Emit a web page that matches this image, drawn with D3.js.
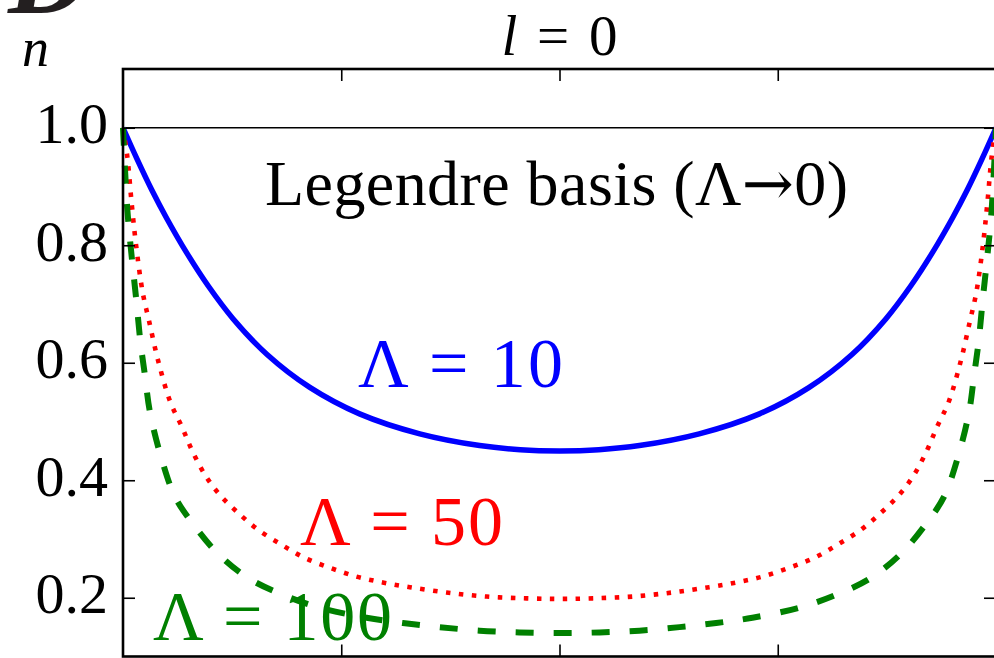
<!DOCTYPE html>
<html>
<head>
<meta charset="utf-8">
<script src="https://cdn.jsdelivr.net/npm/d3@7"></script>
<style>
  html, body { margin: 0; padding: 0; background: #fff; overflow: hidden; }
  svg { display: block; }
</style>
</head>
<body>
<svg id="chart" width="994" height="658"></svg>
<script>
// ---- data ----
const xTicks = [-0.5, 0, 0.5];
const yTicks = [0.2, 0.4, 0.6, 0.8, 1.0];
const yTickLabels = ["0.2", "0.4", "0.6", "0.8", "1.0"];
const seriesNames = ["Λ = 10", "Λ = 50", "Λ = 100"];
const legendreLevel = 1.0;

const x10 = [-1, -0.968, -0.934, -0.9, -0.854, -0.805, -0.748, -0.67, -0.572, -0.458, -0.32, -0.183, -0.09, 0,
             0.09, 0.183, 0.32, 0.458, 0.572, 0.67, 0.748, 0.805, 0.854, 0.9, 0.934, 0.968, 1];
const n10 = [1.0, 0.947, 0.894, 0.846, 0.787, 0.731, 0.675, 0.614, 0.558, 0.513, 0.479, 0.459, 0.452, 0.45,
             0.452, 0.459, 0.479, 0.513, 0.558, 0.614, 0.675, 0.731, 0.787, 0.846, 0.894, 0.947, 1.0];

const x50 = [-1, -0.99, -0.98, -0.97, -0.955, -0.94, -0.92, -0.892, -0.865, -0.842, -0.812, -0.778, -0.737, -0.691,
             -0.636, -0.584, -0.526, -0.465, -0.405, -0.343, -0.259, -0.167, -0.076, 0,
             0.076, 0.167, 0.259, 0.343, 0.405, 0.465, 0.526, 0.584, 0.636, 0.691, 0.737, 0.778, 0.812, 0.842,
             0.865, 0.892, 0.92, 0.94, 0.955, 0.97, 0.98, 0.99, 1];
const n50 = [1.0, 0.95, 0.87, 0.8, 0.72, 0.67, 0.605, 0.534, 0.491, 0.451, 0.409, 0.375, 0.345, 0.316,
             0.29, 0.268, 0.251, 0.236, 0.226, 0.218, 0.209, 0.202, 0.199, 0.198,
             0.199, 0.202, 0.209, 0.218, 0.226, 0.236, 0.251, 0.268, 0.29, 0.316, 0.345, 0.375, 0.409, 0.451,
             0.491, 0.534, 0.605, 0.67, 0.72, 0.8, 0.87, 0.95, 1.0];

const x100 = [-1, -0.99, -0.98, -0.97, -0.96, -0.95, -0.938, -0.911, -0.881, -0.842, -0.785, -0.714, -0.634, -0.549,
              -0.442, -0.359, -0.275, -0.183, -0.092, 0,
              0.092, 0.183, 0.275, 0.359, 0.442, 0.549, 0.634, 0.714, 0.785, 0.842, 0.881, 0.911, 0.938,
              0.95, 0.96, 0.97, 0.98, 0.99, 1];
const n100 = [1.0, 0.86, 0.78, 0.71, 0.635, 0.58, 0.515, 0.435, 0.372, 0.328, 0.277, 0.234, 0.205, 0.183,
              0.166, 0.157, 0.15, 0.144, 0.141, 0.14,
              0.141, 0.144, 0.15, 0.157, 0.166, 0.183, 0.205, 0.234, 0.277, 0.328, 0.372, 0.435, 0.515,
              0.58, 0.635, 0.71, 0.78, 0.86, 1.0];

// ---- layout ----
const svg = d3.select("#chart");
const plotL = 123, plotR = 996, plotT = 69, plotB = 656.5;
const x = d3.scaleLinear().domain([-1, 1]).range([plotL, plotR]);
const y = d3.scaleLinear().domain([0.1, 1.1]).range([plotB, plotT]);
const serif = "'Liberation Serif', 'Times New Roman', serif";

// panel label fragment at top-left (cut off by the frame)
svg.append("text").attr("x", 8).attr("y", 13)
  .attr("font-family", serif).attr("font-weight", "bold").attr("font-style", "italic")
  .attr("font-size", 112).attr("fill", "#231f20").text("D");

// Legendre basis reference line
svg.append("line")
  .attr("x1", x(-1)).attr("x2", x(1))
  .attr("y1", y(legendreLevel)).attr("y2", y(legendreLevel))
  .attr("stroke", "#000").attr("stroke-width", 1.6);

// curves
const series = [
  { xs: x10, ys: n10, color: "#0000ff", width: 5.5, dash: null },
  { xs: x50, ys: n50, color: "#ff0000", width: 4.6, dash: "4.5,8.5" },
  { xs: x100, ys: n100, color: "#008000", width: 6, dash: "18,20" }
];
const line = d3.line().x(d => x(d[0])).y(d => y(d[1])).curve(d3.curveCatmullRom.alpha(0.5));
series.forEach(s => {
  const pts = s.xs.map((v, i) => [v, s.ys[i]]);
  const p = svg.append("path").datum(pts).attr("d", line)
    .attr("fill", "none").attr("stroke", s.color).attr("stroke-width", s.width);
  if (s.dash) p.attr("stroke-dasharray", s.dash);
});

// axes (ticks pointing inwards, on all four sides)
const tickLen = 12;
const axL = svg.append("g").attr("transform", `translate(${plotL},0)`)
  .call(d3.axisRight(y).tickValues(yTicks).tickSize(tickLen).tickFormat(""));
const axR = svg.append("g").attr("transform", `translate(${plotR},0)`)
  .call(d3.axisLeft(y).tickValues(yTicks).tickSize(tickLen).tickFormat(""));
const axB = svg.append("g").attr("transform", `translate(0,${plotB})`)
  .call(d3.axisTop(x).tickValues(xTicks).tickSize(tickLen).tickFormat(""));
const axT = svg.append("g").attr("transform", `translate(0,${plotT})`)
  .call(d3.axisBottom(x).tickValues(xTicks).tickSize(tickLen).tickFormat(""));
[axL, axR, axB, axT].forEach(a => {
  a.select(".domain").remove();
  a.selectAll(".tick line").attr("stroke", "#000").attr("stroke-width", 1.6);
});

// frame
svg.append("rect").attr("x", plotL).attr("y", plotT)
  .attr("width", plotR - plotL).attr("height", plotB - plotT)
  .attr("fill", "none").attr("stroke", "#000").attr("stroke-width", 2.6);

// y tick labels
svg.append("g").selectAll("text").data(yTicks).join("text")
  .attr("x", 108).attr("y", d => y(d) + 15.5)
  .attr("text-anchor", "end")
  .attr("font-family", serif).attr("font-size", 58).attr("fill", "#000")
  .text((d, i) => yTickLabels[i]);

// y axis label "n"
svg.append("text").attr("x", 22).attr("y", 66)
  .attr("font-family", serif).attr("font-style", "italic").attr("font-size", 54)
  .text("n");

// title "l = 0"
const title = svg.append("text").attr("x", x(0)).attr("y", 55)
  .attr("text-anchor", "middle").attr("font-family", serif).attr("font-size", 57)
  .attr("textLength", 116).attr("lengthAdjust", "spacing");
title.append("tspan").attr("font-style", "italic").text("l");
title.append("tspan").text(" = 0");

// Legendre annotation
const leg = svg.append("text").attr("x", 265).attr("y", 205)
  .attr("font-family", serif).attr("font-size", 64)
  .attr("textLength", 583).attr("lengthAdjust", "spacing");
leg.append("tspan").text("Legendre basis (Λ");
leg.append("tspan").attr("font-family", "'DejaVu Serif', serif").attr("font-size", 62).text("→");
leg.append("tspan").text("0)");

// series annotations
const labels = [
  { text: seriesNames[0], x0: 358, yb: 387, len: 205, color: "#0000ff" },
  { text: seriesNames[1], x0: 300, yb: 545, len: 203, color: "#ff0000" },
  { text: seriesNames[2], x0: 153, yb: 640, len: 239, color: "#008000" }
];
labels.forEach(l => {
  svg.append("text").attr("x", l.x0).attr("y", l.yb)
    .attr("font-family", serif).attr("font-size", 70).attr("fill", l.color)
    .attr("textLength", l.len).attr("lengthAdjust", "spacing")
    .text(l.text);
});
</script>
</body>
</html>
